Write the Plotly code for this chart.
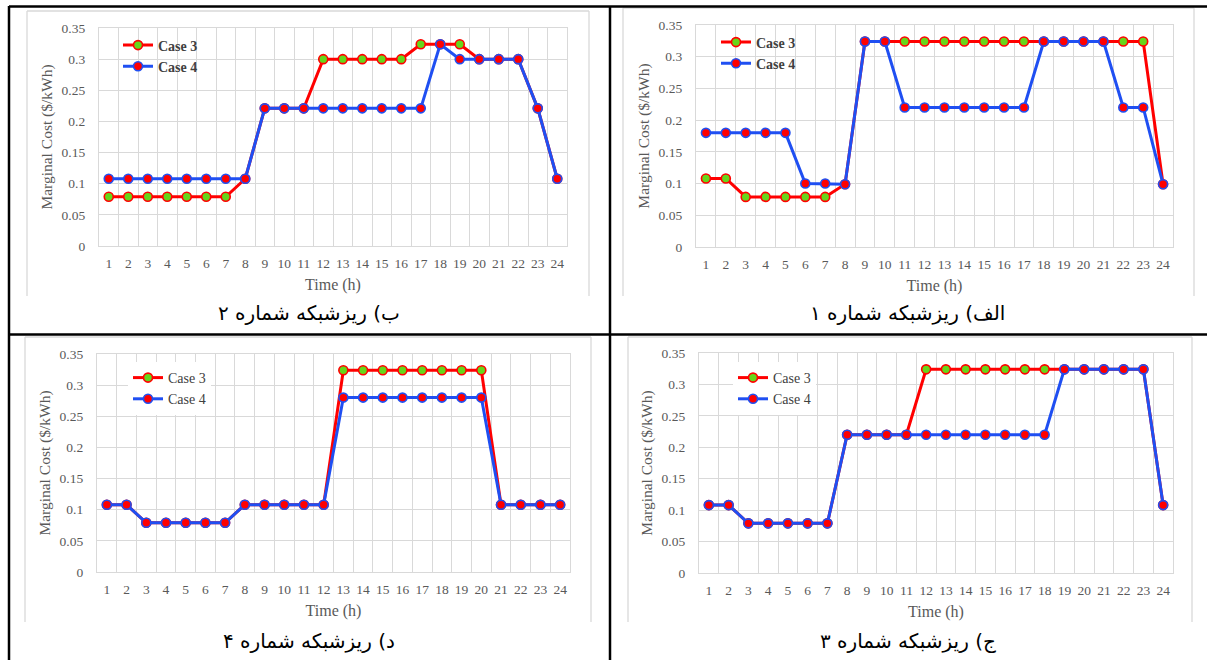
import plotly.graph_objects as go

# Canvas size in pixels; layout helpers convert pixel positions to paper fractions
W, H = 1207, 660


def fx(x):
    return x / W


def fy(y):
    return 1 - y / H


# ---------------------------------------------------------------- data
hours = list(range(1, 25))
x_tick_labels = [str(h) for h in hours]
y_ticks = [0, 0.05, 0.1, 0.15, 0.2, 0.25, 0.3, 0.35]
y_tick_labels = ["0", "0.05", "0.1", "0.15", "0.2", "0.25", "0.3", "0.35"]
series_names = ["Case 3", "Case 4"]

# Microgrid 1 (الف)
mg1_case3 = [0.108, 0.108, 0.079, 0.079, 0.079, 0.079, 0.079, 0.099,
             0.324, 0.324, 0.324, 0.324, 0.324, 0.324, 0.324, 0.324,
             0.324, 0.324, 0.324, 0.324, 0.324, 0.324, 0.324, 0.099]
mg1_case4 = [0.180, 0.180, 0.180, 0.180, 0.180, 0.100, 0.100, 0.099,
             0.324, 0.324, 0.220, 0.220, 0.220, 0.220, 0.220, 0.220,
             0.220, 0.324, 0.324, 0.324, 0.324, 0.220, 0.220, 0.099]

# Microgrid 2 (ب)
mg2_case3 = [0.079, 0.079, 0.079, 0.079, 0.079, 0.079, 0.079, 0.108,
             0.221, 0.221, 0.221, 0.300, 0.300, 0.300, 0.300, 0.300,
             0.324, 0.324, 0.324, 0.300, 0.300, 0.300, 0.221, 0.108]
mg2_case4 = [0.108, 0.108, 0.108, 0.108, 0.108, 0.108, 0.108, 0.108,
             0.221, 0.221, 0.221, 0.221, 0.221, 0.221, 0.221, 0.221,
             0.221, 0.324, 0.300, 0.300, 0.300, 0.300, 0.221, 0.108]

# Microgrid 3 (ج)
mg3_case3 = [0.108, 0.108, 0.079, 0.079, 0.079, 0.079, 0.079, 0.220,
             0.220, 0.220, 0.220, 0.324, 0.324, 0.324, 0.324, 0.324,
             0.324, 0.324, 0.324, 0.324, 0.324, 0.324, 0.324, 0.108]
mg3_case4 = [0.108, 0.108, 0.079, 0.079, 0.079, 0.079, 0.079, 0.220,
             0.220, 0.220, 0.220, 0.220, 0.220, 0.220, 0.220, 0.220,
             0.220, 0.220, 0.324, 0.324, 0.324, 0.324, 0.324, 0.108]

# Microgrid 4 (د)
mg4_case3 = [0.108, 0.108, 0.079, 0.079, 0.079, 0.079, 0.079, 0.108,
             0.108, 0.108, 0.108, 0.108, 0.324, 0.324, 0.324, 0.324,
             0.324, 0.324, 0.324, 0.324, 0.108, 0.108, 0.108, 0.108]
mg4_case4 = [0.108, 0.108, 0.079, 0.079, 0.079, 0.079, 0.079, 0.108,
             0.108, 0.108, 0.108, 0.108, 0.280, 0.280, 0.280, 0.280,
             0.280, 0.280, 0.280, 0.280, 0.108, 0.108, 0.108, 0.108]

captions = ["ب) ریزشبکه شماره ۲", "الف) ریزشبکه شماره ۱",
            "د) ریزشبکه شماره ۴", "ج) ریزشبکه شماره ۳"]

# ---------------------------------------------------------------- styling
RED = "#FF0000"
BLUE = "#1F4FF2"
GREEN = "#66D61A"
GRID = "#D9D9D9"
TEXT = "#595959"
SERIF = "Liberation Serif"

# one entry per table cell: plot area (px), legend anchor (px), caption centre (px), chart frame (px)
panels = [
    dict(c3=mg2_case3, c4=mg2_case4, plot=(99, 567, 28, 246), leg=(118, 29.5),
         bold=True, box=False, cap=(309, 313), frame=(27, 589, 11, 296)),
    dict(c3=mg1_case3, c4=mg1_case4, plot=(696, 1173, 25, 247), leg=(716, 26.5),
         bold=True, box=False, cap=(908, 313), frame=(623, 1194, 8, 296)),
    dict(c3=mg4_case3, c4=mg4_case4, plot=(97, 570, 354, 572), leg=(128, 362),
         bold=False, box=True, cap=(309, 641), frame=(25, 591, 337, 622)),
    dict(c3=mg3_case3, c4=mg3_case4, plot=(699, 1173, 353, 573), leg=(733, 362),
         bold=False, box=True, cap=(908, 641), frame=(628, 1192, 337, 622)),
]

fig = go.Figure()
layout = dict(
    width=W, height=H,
    margin=dict(l=0, r=0, t=0, b=0),
    paper_bgcolor="white", plot_bgcolor="white",
    showlegend=True,
    annotations=[], shapes=[],
)

minor_grid = [h - 0.5 for h in hours] + [hours[-1] + 0.5]

for i, p in enumerate(panels, start=1):
    sfx = "" if i == 1 else str(i)
    xa, ya, lg = "x" + sfx, "y" + sfx, "legend" + sfx
    x0, x1, y0, y1 = p["plot"]

    for name, vals, fill, edge in [(series_names[0], p["c3"], GREEN, RED),
                                   (series_names[1], p["c4"], RED, BLUE)]:
        fig.add_trace(go.Scatter(
            x=hours, y=vals, name=name, mode="lines+markers",
            line=dict(color=edge, width=3),
            marker=dict(size=9, color=fill, line=dict(color=edge, width=1.6)),
            xaxis=xa, yaxis=ya, legend=lg,
        ))

    layout["xaxis" + sfx] = dict(
        domain=[fx(x0), fx(x1)], anchor=ya, range=[0.5, 24.5],
        tickmode="array", tickvals=hours, ticktext=x_tick_labels,
        showgrid=False, zeroline=False, ticks="",
        minor=dict(tickmode="array", tickvals=minor_grid, showgrid=True,
                   gridcolor=GRID, gridwidth=1.3, ticks=""),
        showline=True, linecolor=GRID, linewidth=1.3, mirror=True,
        tickfont=dict(family=SERIF, size=13.5, color=TEXT),
        ticklabelstandoff=5,
        title=dict(text="Time (h)", font=dict(family=SERIF, size=16, color=TEXT),
                   standoff=8),
        automargin=False, fixedrange=True,
    )
    layout["yaxis" + sfx] = dict(
        domain=[fy(y1), fy(y0)], anchor=xa, range=[0, 0.35],
        tickmode="array", tickvals=y_ticks, ticktext=y_tick_labels,
        showgrid=True, gridcolor=GRID, gridwidth=1.3, zeroline=False, ticks="",
        showline=True, linecolor=GRID, linewidth=1.3, mirror=True,
        tickfont=dict(family=SERIF, size=13.5, color=TEXT),
        ticklabelstandoff=10,
        title=dict(text="Marginal Cost ($/kWh)",
                   font=dict(family=SERIF, size=15.5, color=TEXT), standoff=5),
        automargin=False, fixedrange=True,
    )

    lx, ly = p["leg"]
    layout[lg] = dict(
        x=fx(lx), y=fy(ly), xanchor="left", yanchor="top",
        bgcolor="white" if p["box"] else "rgba(0,0,0,0)",
        borderwidth=0, tracegroupgap=0, itemwidth=30,
        font=dict(family=SERIF, size=14, color="#404040",
                  weight="bold" if p["bold"] else "normal"),
    )

    # caption under each chart
    cx, cy = p["cap"]
    layout["annotations"].append(dict(
        xref="paper", yref="paper", x=fx(cx), y=fy(cy), text=captions[i - 1],
        showarrow=False, xanchor="center", yanchor="middle",
        font=dict(family="DejaVu Sans", size=20, color="black"),
    ))

    # light frame of the embedded chart (left, top, right edges)
    fl, fr, ft, fb = p["frame"]
    for (ax0, ay0, ax1, ay1) in [(fl, fb, fl, ft), (fl, ft, fr, ft), (fr, ft, fr, fb)]:
        layout["shapes"].append(dict(
            type="line", xref="paper", yref="paper",
            x0=fx(ax0), y0=fy(ay0), x1=fx(ax1), y1=fy(ay1),
            line=dict(color=GRID, width=1.3), layer="below",
        ))

# black table rules
for (ax0, ay0, ax1, ay1) in [(9, 6, 9, 660), (9, 6.5, 1207, 6.5),
                             (610, 6, 610, 660), (9, 334.5, 1207, 334.5)]:
    layout["shapes"].append(dict(
        type="line", xref="paper", yref="paper",
        x0=fx(ax0), y0=fy(ay0), x1=fx(ax1), y1=fy(ay1),
        line=dict(color="black", width=2.5), layer="above",
    ))

fig.update_layout(**layout)
fig.write_html("out.html")
